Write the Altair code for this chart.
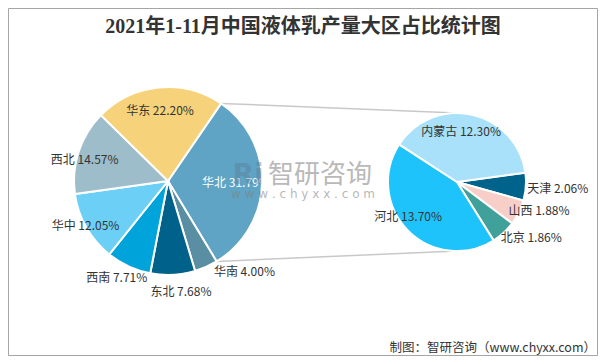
import math
import altair as alt
import pandas as pd

# ---------------- data ----------------
title_text = "2021年1-11月中国液体乳产量大区占比统计图"
source_note = "制图：智研咨询（www.chyxx.com）"

regions = ["华北", "华南", "东北", "西南", "华中", "西北", "华东"]
region_share = [31.79, 4.00, 7.68, 7.71, 12.05, 14.57, 22.20]

provinces = ["天津", "山西", "北京", "河北", "内蒙古"]
province_share = [2.06, 1.88, 1.86, 13.70, 12.30]

# ---------------- style / layout ----------------
region_colors = ["#5fa4c4", "#5a8fa3", "#00618a", "#00a3da", "#6ccff6", "#9ebdcb", "#f6d37b"]
region_text_colors = ["#ffffff"] + ["#333333"] * 6
province_colors = ["#00638b", "#f7cfc8", "#40a09a", "#1fc3fb", "#a8e1f9"]
province_text_colors = ["#333333"] * 5

W, H = 590, 348
L_CX, L_CY, L_R = 160, 173, 94
R_CX, R_CY, R_R = 449, 174, 69
L_START = 34.4   # degrees, clockwise from north
R_START = 82.3
region_label_r = [68, 119, 112, 110, 94, 86, 70]
region_label_shift = [0, -16, -3.7, 3, 1, -4, -1]
province_label_r = [101, 87, 93, 60, 50]
province_label_shift = [0, -6.7, -10.4, 9, -8]

FONT = "Noto Sans CJK SC"


def pie_frame(names, vals, colors, tcols, lrs, shifts):
    total = sum(vals)
    rows, cum = [], 0.0
    for i, (n, v) in enumerate(zip(names, vals)):
        rows.append(dict(idx=i, name=n, v=v, color=colors[i], tcol=tcols[i],
                         mid=cum + v / 2 + shifts[i] / 360.0 * total,
                         lr=lrs[i], label=f"{n} {v:.2f}%"))
        cum += v
    return pd.DataFrame(rows), total


def pie_layers(df, total, start_deg, cx, cy, r):
    s = math.radians(start_deg)
    sc = alt.Scale(domain=[0, total], range=[s, s + 2 * math.pi])
    arcs = alt.Chart(df).mark_arc(radius=r, stroke="white", strokeWidth=2).encode(
        theta=alt.Theta("v:Q", stack=True, scale=sc),
        order=alt.Order("idx:Q"),
        color=alt.Color("color:N", scale=None),
        x=alt.value(cx), y=alt.value(cy),
    )
    texts = alt.Chart(df).mark_text(font=FONT, fontSize=12, align="center",
                                    baseline="middle").encode(
        theta=alt.Theta("mid:Q", stack=None, scale=sc),
        radius=alt.Radius("lr:Q", scale=None),
        text="label:N",
        color=alt.Color("tcol:N", scale=None),
        x=alt.value(cx), y=alt.value(cy),
    )
    return arcs, texts


ldf, ltot = pie_frame(regions, region_share, region_colors, region_text_colors,
                      region_label_r, region_label_shift)
rdf, rtot = pie_frame(provinces, province_share, province_colors, province_text_colors,
                      province_label_r, province_label_shift)

l_arcs, l_text = pie_layers(ldf, ltot, L_START, L_CX, L_CY, L_R)
r_arcs, r_text = pie_layers(rdf, rtot, R_START, R_CX, R_CY, R_R)

# connector lines from the edges of the first slice to the second pie
a1 = math.radians(L_START)
a2 = math.radians(L_START + region_share[0] / ltot * 360)
lines_df = pd.DataFrame({
    "x": [L_CX + L_R * math.sin(a1), L_CX + L_R * math.sin(a2)],
    "y": [L_CY - L_R * math.cos(a1), L_CY - L_R * math.cos(a2)],
    "x2": [R_CX, R_CX],
    "y2": [R_CY - R_R, R_CY + R_R],
})
lines = alt.Chart(lines_df).mark_rule(color="#c8c8c8", strokeWidth=1.5).encode(
    x=alt.X("x:Q", scale=None), y=alt.Y("y:Q", scale=None),
    x2="x2:Q", y2="y2:Q",
)

# title and source
title = alt.Chart(pd.DataFrame({"t": [title_text]})).mark_text(
    font="Liberation Serif, Noto Sans CJK SC", fontSize=20, fontWeight="bold",
    color="#333333", align="center", baseline="middle").encode(
    text="t:N", x=alt.value(W / 2), y=alt.value(19))

source = alt.Chart(pd.DataFrame({"t": [source_note]})).mark_text(
    font=FONT, fontSize=12.5, color="#333333", align="right", baseline="middle").encode(
    text="t:N", x=alt.value(588), y=alt.value(340))

# watermark
wm1 = alt.Chart(pd.DataFrame({"t": ["智研咨询"]})).mark_text(
    font=FONT, fontSize=26, color="#808080", opacity=0.55, align="center",
    baseline="middle").encode(text="t:N", x=alt.value(312), y=alt.value(167))
wm2 = alt.Chart(pd.DataFrame({"t": ["w w w . c h y x x . c o m"]})).mark_text(
    font="DejaVu Sans", fontSize=12, color="#808080", opacity=0.55, align="center",
    baseline="middle").encode(text="t:N", x=alt.value(295), y=alt.value(186))
wm3 = alt.Chart(pd.DataFrame({"t": ["Ri"]})).mark_text(
    font="DejaVu Sans", fontSize=28, fontWeight="bold", color="#5b7a96", opacity=0.4,
    align="center", baseline="middle").encode(text="t:N", x=alt.value(240), y=alt.value(168))

border = alt.Chart(pd.DataFrame({"a": [0]})).mark_rect(
    fill=None, stroke="#a6a6a6", strokeWidth=1).encode(
    x=alt.value(0.5), x2=alt.value(W - 0.5), y=alt.value(0.5), y2=alt.value(H - 0.5))

chart = alt.layer(
    border, lines, l_arcs, r_arcs, l_text, r_text, wm3, wm1, wm2, title, source
).resolve_scale(theta="independent").properties(
    width=W, height=H, autosize=alt.AutoSizeParams(type="none"), padding=0,
    background="white",
).configure_view(stroke=None)

chart.save("out.html", embed_options={"renderer": "svg", "actions": False})
